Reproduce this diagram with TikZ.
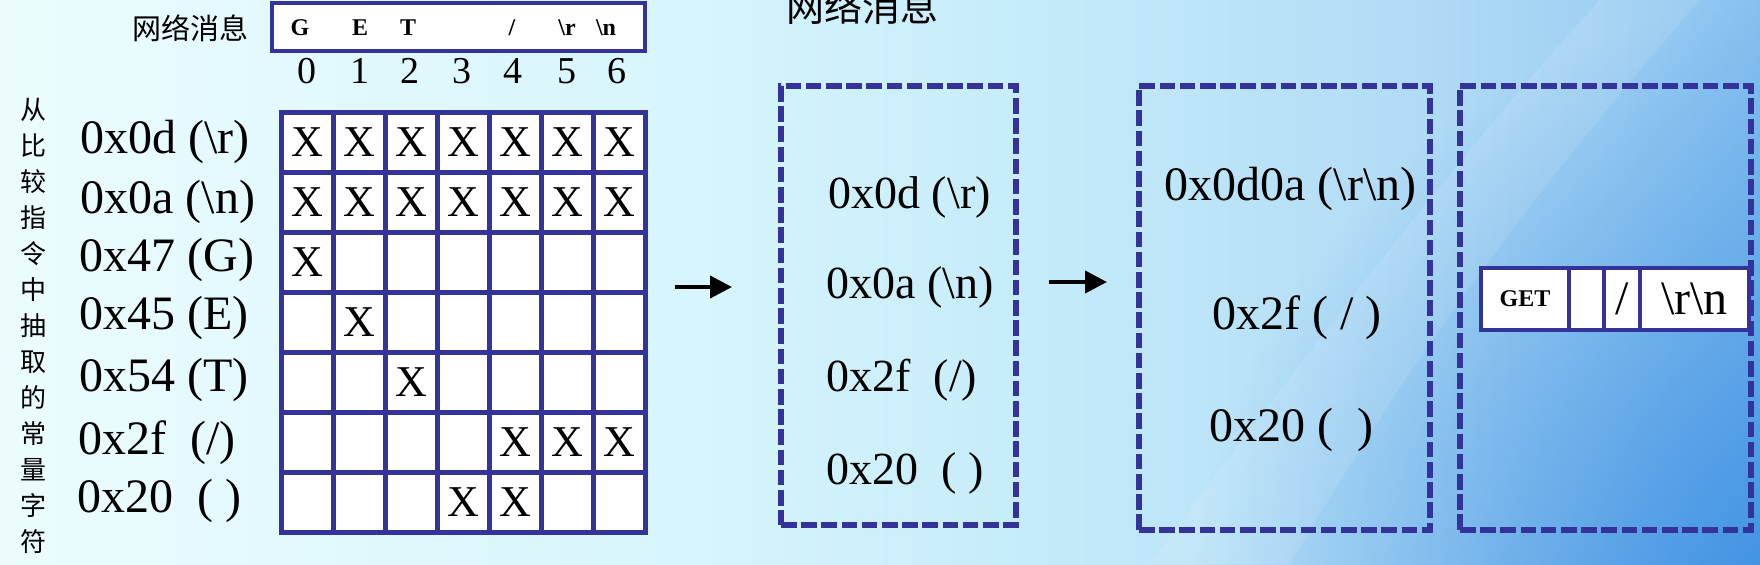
\documentclass[tikz,border=0pt]{standalone}
\usepackage{fontspec}
\setmainfont{Liberation Serif}
\newfontfamily\cjk{Noto Sans CJK SC}
\usetikzlibrary{arrows.meta,fadings}

\definecolor{gridblue}{RGB}{51,51,153}
\definecolor{bga}{RGB}{236,252,253}
\definecolor{bgb}{RGB}{214,245,252}
\definecolor{bgc}{RGB}{194,233,249}
\definecolor{bgd}{RGB}{178,220,246}
\definecolor{bge}{RGB}{160,208,243}
\definecolor{bgf}{RGB}{135,193,240}
\definecolor{deepbg}{RGB}{55,140,225}
\pgfdeclarehorizontalshading{slidebg}{100bp}{color(0bp)=(bga); color(25bp)=(bga);
  color(44.9bp)=(bgb); color(56.25bp)=(bgc); color(64.8bp)=(bgd);
  color(70.45bp)=(bge); color(75bp)=(bgf); color(100bp)=(bgf)}
\tikzfading[name=cornerglow, inner color=transparent!0, outer color=transparent!100]

\newcommand\hexfont{\fontsize{24}{28}\selectfont}
\newcommand\boxfont{\fontsize{23}{27}\selectfont}
\newcommand\bytefont{\fontsize{12}{14}\selectfont\bfseries}
\newcommand\bs{\textbackslash}

\tikzset{
  cell/.style={draw=gridblue, line width=2.5pt, fill=white, inner sep=0pt,
    outer sep=0pt, minimum width=26.05pt, minimum height=30pt},
  xmark/.style={font=\fontsize{22}{26}\selectfont, inner sep=0pt},
  rowlabel/.style={font=\hexfont, anchor=base west, inner sep=0pt},
  colnum/.style={font=\fontsize{19}{22}\selectfont, anchor=base, inner sep=0pt},
  byte/.style={font=\bytefont, anchor=base, inner sep=0pt},
  msgbox/.style={draw=gridblue, line width=2.3pt, fill=white, inner sep=0pt, outer sep=0pt},
  dashbox/.style={draw=gridblue, line width=2.6pt, dash pattern=on 7.8pt off 2.3pt,
    inner sep=0pt, minimum width=#1},
  boxtext/.style={font=\boxfont, anchor=base west, inner sep=0pt},
  flow/.style={-{Triangle[length=11pt,width=11pt]}, line width=2pt},
}

\begin{document}
\begin{tikzpicture}[x=0.5pt,y=-0.5pt]
  \useasboundingbox (0,0) rectangle (1760,564);
  \shade[shading=slidebg] (0,0) rectangle (1760,564);
  \fill[deepbg, path fading=cornerglow] (1830,640) circle (640);
  \fill[white, opacity=.1] (1150,564) .. controls (1330,320) and (1480,130) .. (1600,0)
    -- (1700,0) .. controls (1560,160) and (1420,340) .. (1290,564) -- cycle;

  % input message
  \node[font={\cjk\fontsize{14.5}{17}\selectfont}] (msglabel) at (190,28) {网络消息};
  \node[msgbox, minimum width=186.5pt, minimum height=24pt] (msg) at (458.5,27) {};
  \node[byte] (m0) at (300,35) {G};
  \node[byte] (m1) at (360,35) {E};
  \node[byte] (m2) at (408,35) {T};
  \node[byte] (m4) at (512,35) {/};
  \node[byte] (m5) at (567,35) {\bs r};
  \node[byte] (m6) at (606,35) {\bs n};
  \foreach \c/\x in {0/307,1/360,2/410,3/462,4/513,5/567,6/617}
    \node[colnum] (n\c) at (\x,83) {\c};

  % constants taken from the compare instructions
  \node[font={\cjk\fontsize{13}{18}\selectfont}, align=center, inner sep=0pt] (side) at (33,326)
    {从\\比\\较\\指\\令\\中\\抽\\取\\的\\常\\量\\字\\符};
  \node[rowlabel] (r0) at (80,153) {0x0d (\bs r)};
  \node[rowlabel] (r1) at (80,213) {0x0a (\bs n)};
  \node[rowlabel] (r2) at (79,271) {0x47 (G)};
  \node[rowlabel] (r3) at (79,329) {0x45 (E)};
  \node[rowlabel] (r4) at (79,391) {0x54 (T)};
  \node[rowlabel] (r5) at (78,454) {0x2f\ \ (/)};
  \node[rowlabel] (r6) at (77,512) {0x20\ \ ( )};

  % match grid
  \foreach \r in {0,...,6}
    \foreach \c in {0,...,6}
      \node[cell] (c\r\c) at ({307.05+52.1*\c},{142+60*\r}) {};
  \foreach \r/\c in {0/0,0/1,0/2,0/3,0/4,0/5,0/6,1/0,1/1,1/2,1/3,1/4,1/5,1/6,
                     2/0,3/1,4/2,5/4,5/5,5/6,6/3,6/4}
    \node[xmark] (x\r\c) at (c\r\c) {X};

  \coordinate (a1s) at (675,287);
  \coordinate (a1e) at (732,287);
  \draw[flow] (a1s) -- (a1e);

  % step 1
  \node[font={\cjk\fontsize{19}{22}\selectfont}, anchor=base west, inner sep=0pt] (title) at (786,21) {网络消息};
  \node[dashbox=117.5pt, minimum height=219.5pt] (box1) at (898.5,305.5) {};
  \node[boxtext] (b10) at (828,208) {0x0d (\bs r)};
  \node[boxtext] (b11) at (826,298) {0x0a (\bs n)};
  \node[boxtext] (b12) at (826,391) {0x2f\ \ (/)};
  \node[boxtext] (b13) at (826,484) {0x20\ \ ( )};

  \coordinate (a2s) at (1049,282);
  \coordinate (a2e) at (1107,282);
  \draw[flow] (a2s) -- (a2e);

  % step 2
  \node[dashbox=145.5pt, minimum height=222pt] (box2) at (1284.5,308) {};
  \node[boxtext, font=\hexfont] (b20) at (1164,200) {0x0d0a (\bs r\bs n)};
  \node[boxtext, font=\hexfont] (b21) at (1212,329) {0x2f ( / )};
  \node[boxtext, font=\hexfont] (b22) at (1209,441) {0x20 (\ \ )};

  % step 3
  \node[dashbox=145.5pt, minimum height=222pt] (box3) at (1605.5,308) {};
  \node[msgbox, minimum width=44pt, minimum height=31pt, font=\bytefont] (get) at (1525,299) {GET};
  \node[msgbox, minimum width=17.5pt, minimum height=31pt] (spc) at (1586.5,299) {};
  \node[msgbox, minimum width=18pt, minimum height=31pt, font=\hexfont] (slash) at (1622,299) {/};
  \node[msgbox, minimum width=54.5pt, minimum height=31pt, font=\hexfont] (crlf) at (1694.5,299) {\bs r\bs n};
\end{tikzpicture}
\end{document}
